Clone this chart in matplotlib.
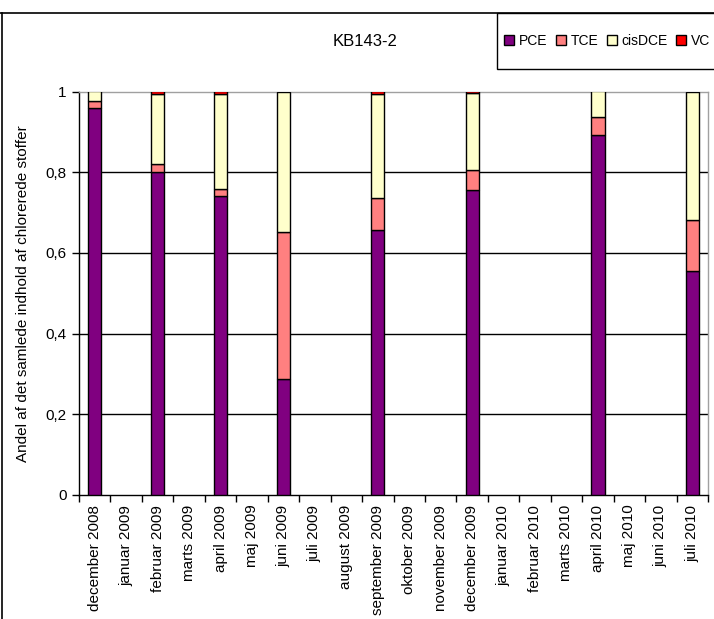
import matplotlib
matplotlib.use("Agg")
import matplotlib.pyplot as plt
import numpy as np
from matplotlib.lines import Line2D
from matplotlib.patches import Rectangle

plt.rcParams['font.family'] = ['Liberation Sans', 'DejaVu Sans']

months = ["december 2008", "januar 2009", "februar 2009", "marts 2009", "april 2009",
          "maj 2009", "juni 2009", "juli 2009", "august 2009", "september 2009",
          "oktober 2009", "november 2009", "december 2009", "januar 2010", "februar 2010",
          "marts 2010", "april 2010", "maj 2010", "juni 2010", "juli 2010"]
pce    = [0.958, 0, 0.800, 0, 0.740, 0, 0.288, 0, 0, 0.657, 0, 0, 0.757, 0, 0, 0, 0.893, 0, 0, 0.554]
tce    = [0.019, 0, 0.021, 0, 0.018, 0, 0.365, 0, 0, 0.080, 0, 0, 0.049, 0, 0, 0, 0.043, 0, 0, 0.128]
cisdce = [0.023, 0, 0.172, 0, 0.235, 0, 0.347, 0, 0, 0.256, 0, 0, 0.190, 0, 0, 0, 0.064, 0, 0, 0.318]
vc     = [0.000, 0, 0.007, 0, 0.007, 0, 0.000, 0, 0, 0.007, 0, 0, 0.004, 0, 0, 0, 0.000, 0, 0, 0.000]
series = [("PCE", pce, "#800080"), ("TCE", tce, "#FF8080"),
          ("cisDCE", cisdce, "#FFFFCC"), ("VC", vc, "#FF0000")]
yticks = [0, 0.2, 0.4, 0.6, 0.8, 1]
ylabels = ["0", "0,2", "0,4", "0,6", "0,8", "1"]

W, H = 714, 619
fig = plt.figure(figsize=(W / 100, H / 100), dpi=100)
ax = fig.add_axes([79 / W, 1 - 495 / H, (708 - 79) / W, (495 - 91.5) / H])

x = np.arange(len(months))
bottom = np.zeros(len(months))
handles = []
for name, vals, col in series:
    v = np.array(vals)
    mask = v > 0
    ax.bar(x[mask], v[mask], bottom=bottom[mask], width=0.42, color=col,
           edgecolor="black", linewidth=1.0, zorder=3)
    bottom += v
    handles.append(Line2D([], [], marker="s", linestyle="none", markersize=7,
                          markerfacecolor=col, markeredgecolor="black", markeredgewidth=1.0))

ax.set_xlim(-0.5, len(months) - 0.5)
ax.set_ylim(0, 1)
ax.set_yticks(yticks)
ax.set_yticklabels(ylabels, fontsize=11)
ax.set_xticks(x)
ax.set_xticklabels(months, rotation=90, fontsize=11)
ax.tick_params(axis="x", length=0, pad=7)
ax.set_xticks(np.arange(-0.5, len(months)), minor=True)
ax.tick_params(axis="x", which="minor", length=5, width=1, color="black", direction="out")
ax.tick_params(axis="y", length=5, width=1, direction="out", pad=4)
for yv in yticks[1:-1]:
    ax.axhline(yv, color="black", linewidth=1.0, zorder=1)
ax.spines["left"].set_color("black")
ax.spines["bottom"].set_color("black")
ax.spines["top"].set_color("#a0a0a0")
ax.spines["right"].set_color("#a0a0a0")
for s in ax.spines.values():
    s.set_linewidth(1.0)
ax.set_ylabel("Andel af det samlede indhold af chlorerede stoffer", fontsize=11, labelpad=11)

fig.text(365 / W, 1 - 41 / H, "KB143-2", ha="center", va="center", fontsize=12)

# chart border lines
fig.add_artist(Line2D([1.5 / W, 1.5 / W], [0, 1 - 13 / H], color="black", linewidth=1.2))
fig.add_artist(Line2D([0, 1], [1 - 13 / H, 1 - 13 / H], color="black", linewidth=1.2))
# legend box
fig.add_artist(Rectangle((497 / W, 1 - 69 / H), 0.5, 56 / H, transform=fig.transFigure,
                         facecolor="white", edgecolor="black", linewidth=1.0))
leg = fig.legend(handles, [s[0] for s in series], ncol=4, loc="center left",
                 bbox_to_anchor=(504 / W, 1 - 41 / H), frameon=False, fontsize=10,
                 handlelength=0.7, handletextpad=0.35, columnspacing=0.62, borderpad=0,
                 borderaxespad=0)

fig.savefig("out.png", dpi=100)
